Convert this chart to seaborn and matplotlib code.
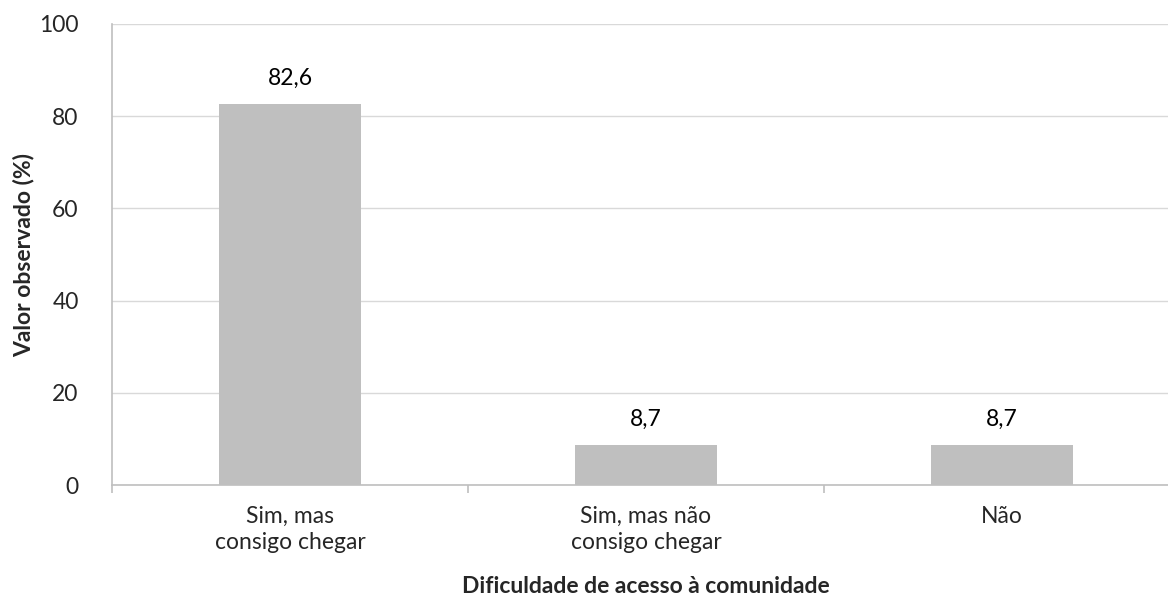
import matplotlib
matplotlib.use("Agg")
import matplotlib.pyplot as plt
import seaborn as sns
import pandas as pd
from matplotlib.ticker import FixedLocator

categories = ["Sim, mas\nconsigo chegar", "Sim, mas não\nconsigo chegar", "Não"]
values = [82.6, 8.7, 8.7]
value_labels = ["82,6", "8,7", "8,7"]
y_ticks = [0, 20, 40, 60, 80, 100]

FS = 16.5

sns.set_theme(style="white")
plt.rcParams["font.family"] = ["Lato", "DejaVu Sans"]

df = pd.DataFrame({"cat": categories, "val": values})

fig = plt.figure(figsize=(11.68, 5.99), dpi=100)
# the chart area runs past the right edge of the image, as in the reference
ax = fig.add_axes([0.0959, 0.19, 0.9144, 0.77])

sns.barplot(data=df, x="cat", y="val", color="#BFBFBF", width=0.4,
            saturation=1, linewidth=0, ax=ax, zorder=3)

for i, (v, lab) in enumerate(zip(values, value_labels)):
    ax.annotate(lab, (i, v), xytext=(0, 11), textcoords="offset points",
                ha="center", va="bottom", fontsize=FS, color="#000000")

ax.set_ylim(0, 100)
ax.set_xlim(-0.5, 2.5)
ax.set_yticks(y_ticks)
ax.yaxis.grid(True, color="#D9D9D9", linewidth=1, zorder=0)
ax.set_axisbelow(True)

for s in ["top", "right"]:
    ax.spines[s].set_visible(False)
for s in ["left", "bottom"]:
    ax.spines[s].set_color("#BFBFBF")
    ax.spines[s].set_linewidth(1.2)

ax.xaxis.set_minor_locator(FixedLocator([-0.5, 0.5, 1.5, 2.5]))
ax.tick_params(axis="x", which="major", bottom=False, length=0, pad=15, labelsize=FS)
for lbl in ax.get_xticklabels():
    lbl.set_linespacing(1.3)
ax.tick_params(axis="x", which="minor", bottom=True, length=6, color="#BFBFBF",
               width=1.2, direction="out")
ax.tick_params(axis="y", length=0, pad=24, labelsize=FS)

ax.set_xlabel("Dificuldade de acesso à comunidade", fontsize=FS,
              fontweight="bold", va="center")
ax.set_ylabel("Valor observado (%)", fontsize=FS, fontweight="bold", va="center")
ax.xaxis.set_label_coords(0.5, -0.22)
ax.yaxis.set_label_coords(-0.083, 0.5)

fig.savefig("out.png", dpi=100)
